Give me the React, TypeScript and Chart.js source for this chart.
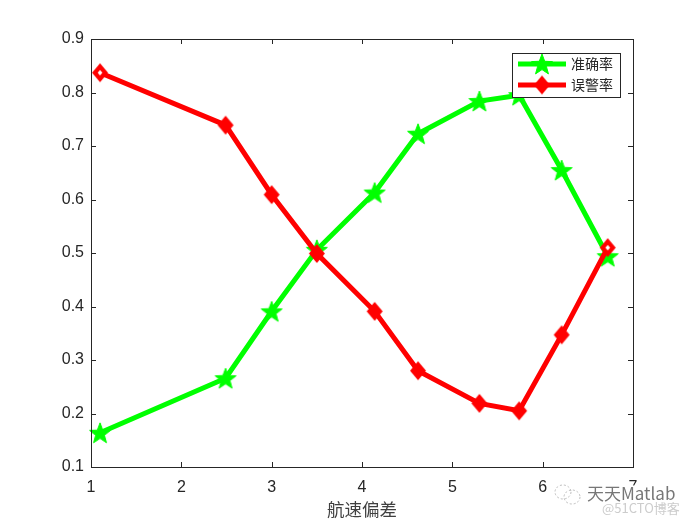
import React, { useEffect, useRef } from 'react';
import { Chart, registerables } from 'chart.js';

Chart.register(...registerables);

// ---- data ----
const xValues = [1.1, 2.49, 3.0, 3.5, 4.14, 4.62, 5.3, 5.74, 6.21, 6.72];
const accuracy = [0.164, 0.266, 0.391, 0.506, 0.613, 0.723, 0.784, 0.795, 0.655, 0.494];
const falseAlarm = [0.837, 0.739, 0.609, 0.499, 0.391, 0.28, 0.219, 0.205, 0.347, 0.51];
const xTicks = [1, 2, 3, 4, 5, 6, 7];
const yTicks = [0.1, 0.2, 0.3, 0.4, 0.5, 0.6, 0.7, 0.8, 0.9];
const seriesNames = ['准确率', '误警率'];
const xTitle = '航速偏差';
const watermark1 = '天天Matlab';
const watermark2 = '@51CTO博客';

const GREEN = '#00ff00';
const RED = '#ff0000';
const AXIS = '#262626';

function makeStar(r: number, color: string): HTMLCanvasElement {
  const s = Math.ceil(r * 2) + 4;
  const c = document.createElement('canvas');
  c.width = s;
  c.height = s;
  const ctx = c.getContext('2d')!;
  ctx.beginPath();
  for (let i = 0; i < 10; i++) {
    const rad = i % 2 === 0 ? r : r * 0.42;
    const a = -Math.PI / 2 + (i * Math.PI) / 5;
    const px = s / 2 + rad * Math.cos(a);
    const py = s / 2 + 1 + rad * Math.sin(a);
    if (i === 0) ctx.moveTo(px, py);
    else ctx.lineTo(px, py);
  }
  ctx.closePath();
  ctx.fillStyle = color;
  ctx.fill();
  ctx.strokeStyle = color;
  ctx.lineWidth = 1;
  ctx.stroke();
  return c;
}

function makeDiamond(hw: number, hh: number, color: string, hollow: boolean): HTMLCanvasElement {
  const w = Math.ceil(hw * 2) + 2;
  const h = Math.ceil(hh * 2) + 2;
  const c = document.createElement('canvas');
  c.width = w;
  c.height = h;
  const ctx = c.getContext('2d')!;
  const path = (k: number) => {
    ctx.beginPath();
    ctx.moveTo(w / 2, h / 2 - hh * k);
    ctx.lineTo(w / 2 + hw * k, h / 2);
    ctx.lineTo(w / 2, h / 2 + hh * k);
    ctx.lineTo(w / 2 - hw * k, h / 2);
    ctx.closePath();
  };
  path(1);
  ctx.fillStyle = color;
  ctx.fill();
  if (hollow) {
    path(0.3);
    ctx.fillStyle = '#ffffff';
    ctx.fill();
  }
  return c;
}

export default function App() {
  const ref = useRef<HTMLCanvasElement | null>(null);

  useEffect(() => {
    if (!ref.current) return;
    const star = makeStar(11, GREEN);
    const dia = makeDiamond(8, 9.5, RED, false);
    const diaHollow = makeDiamond(8, 9.5, RED, true);
    const redStyles = falseAlarm.map((_, i) => (i === 0 || i === falseAlarm.length - 1 ? diaHollow : dia));

    const decor = {
      id: 'matlabDecor',
      afterDraw(chart: any) {
        const { ctx, chartArea } = chart;
        const { left, right, top, bottom } = chartArea;
        const xs = chart.scales.x;
        const ys = chart.scales.y;
        ctx.save();
        // frame
        ctx.strokeStyle = AXIS;
        ctx.lineWidth = 1;
        ctx.strokeRect(Math.round(left) + 0.5, Math.round(top) + 0.5, Math.round(right - left), Math.round(bottom - top));
        // inward ticks
        const tl = 5;
        ctx.beginPath();
        xTicks.forEach((v) => {
          const px = Math.round(xs.getPixelForValue(v)) + 0.5;
          ctx.moveTo(px, bottom);
          ctx.lineTo(px, bottom - tl);
          ctx.moveTo(px, top);
          ctx.lineTo(px, top + tl);
        });
        yTicks.forEach((v) => {
          const py = Math.round(ys.getPixelForValue(v)) + 0.5;
          ctx.moveTo(left, py);
          ctx.lineTo(left + tl, py);
          ctx.moveTo(right, py);
          ctx.lineTo(right - tl, py);
        });
        ctx.stroke();

        // x title
        ctx.fillStyle = '#404040';
        ctx.font = '17.5px "Noto Sans CJK SC", sans-serif';
        ctx.textAlign = 'center';
        ctx.textBaseline = 'middle';
        ctx.fillText(xTitle, (left + right) / 2, 509);

        // legend
        const lx = 512, ly = 53, lw = 108, lh = 44;
        ctx.fillStyle = '#ffffff';
        ctx.fillRect(lx, ly, lw, lh);
        ctx.strokeStyle = AXIS;
        ctx.lineWidth = 1;
        ctx.strokeRect(lx + 0.5, ly + 0.5, lw, lh);
        const rows = [
          { y: 64, color: GREEN, img: star, name: seriesNames[0] },
          { y: 85, color: RED, img: dia, name: seriesNames[1] },
        ];
        rows.forEach((r) => {
          ctx.strokeStyle = r.color;
          ctx.lineWidth = 5;
          ctx.beginPath();
          ctx.moveTo(518, r.y);
          ctx.lineTo(566, r.y);
          ctx.stroke();
          ctx.drawImage(r.img, 542 - r.img.width / 2, r.y - r.img.height / 2);
          ctx.fillStyle = AXIS;
          ctx.font = '14px "Noto Sans CJK SC", sans-serif';
          ctx.textAlign = 'left';
          ctx.textBaseline = 'middle';
          ctx.fillText(r.name, 571, r.y);
        });

        // watermark
        ctx.strokeStyle = '#bbbbbb';
        ctx.lineWidth = 1;
        ctx.setLineDash([2, 2]);
        ctx.beginPath();
        ctx.ellipse(563, 492, 8, 7, 0, 0, Math.PI * 2);
        ctx.stroke();
        ctx.beginPath();
        ctx.ellipse(572, 497, 8, 7, 0, 0, Math.PI * 2);
        ctx.stroke();
        ctx.setLineDash([]);
        ctx.font = '17px "Noto Sans CJK SC", sans-serif';
        ctx.textAlign = 'left';
        ctx.textBaseline = 'middle';
        ctx.lineWidth = 3;
        ctx.strokeStyle = '#ffffff';
        ctx.strokeText(watermark1, 587, 494);
        ctx.fillStyle = '#777777';
        ctx.fillText(watermark1, 587, 494);
        ctx.font = '13px "Noto Sans CJK SC", sans-serif';
        ctx.fillStyle = '#cccccc';
        ctx.fillText(watermark2, 602, 508);
        ctx.restore();
      },
    };

    const tickFont = { family: '"Liberation Sans", Arial, sans-serif', size: 16 };

    const chart = new Chart(ref.current, {
      type: 'line',
      data: {
        datasets: [
          {
            label: seriesNames[0],
            data: xValues.map((x, i) => ({ x, y: accuracy[i] })),
            borderColor: GREEN,
            backgroundColor: GREEN,
            borderWidth: 5,
            pointStyle: star as any,
            pointRadius: 11,
            tension: 0,
            order: 2,
            clip: false as any,
          },
          {
            label: seriesNames[1],
            data: xValues.map((x, i) => ({ x, y: falseAlarm[i] })),
            borderColor: RED,
            backgroundColor: RED,
            borderWidth: 5,
            pointStyle: redStyles as any,
            pointRadius: 10,
            tension: 0,
            order: 1,
            clip: false as any,
          },
        ],
      },
      options: {
        animation: false,
        responsive: false,
        layout: { padding: { top: 39, right: 67, left: 0, bottom: 0 } },
        plugins: { legend: { display: false }, tooltip: { enabled: false } },
        scales: {
          x: {
            type: 'linear',
            min: 1,
            max: 7,
            afterBuildTicks: (s: any) => {
              s.ticks = xTicks.map((v) => ({ value: v }));
            },
            afterFit: (s: any) => {
              s.height = 58;
            },
            grid: { display: false, drawTicks: false },
            border: { display: false },
            ticks: {
              padding: 11,
              color: AXIS,
              font: tickFont,
              maxRotation: 0,
              autoSkip: false,
              callback: (v: any) => String(v),
            },
          },
          y: {
            type: 'linear',
            min: 0.1,
            max: 0.9,
            afterBuildTicks: (s: any) => {
              s.ticks = yTicks.map((v) => ({ value: v }));
            },
            afterFit: (s: any) => {
              s.width = 91;
            },
            grid: { display: false, drawTicks: false },
            border: { display: false },
            ticks: {
              padding: 7,
              color: AXIS,
              font: tickFont,
              autoSkip: false,
              callback: (v: any) => Number(v).toFixed(1),
            },
          },
        },
      },
      plugins: [decor],
    });
    return () => chart.destroy();
  }, []);

  return (
    <div style={{ position: 'absolute', left: 0, top: 0, width: 700, height: 525, background: '#ffffff' }}>
      <canvas ref={ref} width={700} height={525} />
    </div>
  );
}
